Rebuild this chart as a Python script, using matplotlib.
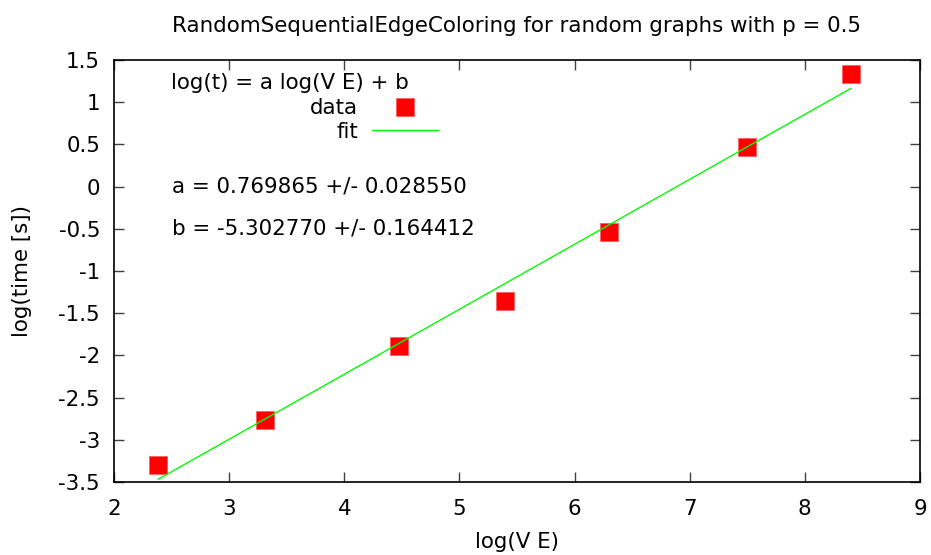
import matplotlib
matplotlib.use("Agg")
import matplotlib.pyplot as plt
import numpy as np

# data
log_ve = [2.385, 3.314, 4.475, 5.396, 6.299, 7.498, 8.401]
log_time = [-3.302, -2.765, -1.889, -1.355, -0.541, 0.473, 1.338]
fit_a = 0.769865
fit_a_err = 0.028550
fit_b = -5.302770
fit_b_err = 0.164412
xticks = [2, 3, 4, 5, 6, 7, 8, 9]
yticks = [1.5, 1, 0.5, 0, -0.5, -1, -1.5, -2, -2.5, -3, -3.5]

FS = 15.4
plt.rcParams['font.family'] = ['DejaVu Sans']
fig = plt.figure(figsize=(9.31, 5.55), dpi=100)
ax = fig.add_axes([114/931, 1-482/555, 806/931, 422/555])

ax.plot(log_ve, log_time, linestyle='none', marker='s', markersize=12.5,
        color='#ff0000', markeredgecolor='#ff6060', markeredgewidth=0.6, label='data')
xf = np.array([min(log_ve), max(log_ve)])
ax.plot(xf, fit_a*xf + fit_b, color='#00ff00', linewidth=1, label='fit')

ax.set_xlim(2, 9)
ax.set_ylim(-3.5, 1.5)
ax.set_xticks(xticks)
ax.set_xticklabels([str(t) for t in xticks])
ax.set_yticks(yticks)
ax.set_yticklabels([('%g' % t) for t in yticks])
ax.tick_params(direction='in', length=7.5, width=1, top=True, right=True,
               labelsize=FS, color='#404040')
ax.tick_params(axis='x', pad=12.5)
ax.tick_params(axis='y', pad=10)
for s in ax.spines.values():
    s.set_linewidth(1.2)
    s.set_color('black')

ax.set_title('RandomSequentialEdgeColoring for random graphs with p = 0.5', fontsize=FS, pad=20)
ax.set_xlabel('log(V E)', fontsize=FS, labelpad=9)
ax.set_ylabel('log(time [s])', fontsize=FS, labelpad=19)

ax.text(0.0707, 0.946, 'log(t) = a log(V E) + b', transform=ax.transAxes,
        fontsize=FS, ha='left', va='center')
ax.text(2.5, 0.0, 'a = %.6f +/- %.6f' % (fit_a, fit_a_err), fontsize=FS, ha='left', va='center')
ax.text(2.5, -0.5, 'b = %.6f +/- %.6f' % (fit_b, fit_b_err), fontsize=FS, ha='left', va='center')

leg = ax.legend(loc='center right', bbox_to_anchor=(0.402, 0.858), frameon=False, markerfirst=False,
                fontsize=FS, handlelength=3.09, handletextpad=0.65, labelspacing=0.15,
                borderpad=0, borderaxespad=0)

fig.savefig('out.png', dpi=100)
